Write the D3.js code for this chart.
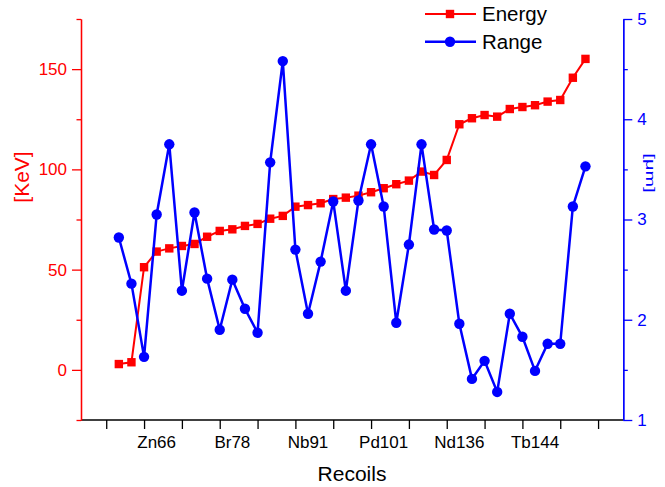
<!DOCTYPE html>
<meta charset="utf-8">
<style>
body { margin: 0; background: #fff; }
text { font-family: Arial, "Liberation Sans", sans-serif; }
</style>
<svg width="665" height="487"></svg>
<script src="https://d3js.org/d3.v7.min.js"></script>
<script>

// data: index 1..38 along the recoil axis
var energy = [2.9, 3.8, 51.2, 59.0, 60.6, 61.8, 62.8, 66.4, 69.3, 70.1, 71.8, 72.8,
  75.4, 76.8, 81.4, 82.2, 83.1, 85.2, 85.9, 86.9, 88.6, 90.6, 92.6, 94.4, 98.9,
  97.2, 104.7, 122.5, 125.5, 127.1, 126.3, 130.1, 131.1, 132.0, 133.8, 134.6, 145.7, 155.1];
var rangeUm = [2.82, 2.36, 1.63, 3.05, 3.75, 2.29, 3.07, 2.41, 1.90, 2.40, 2.11, 1.87,
  3.57, 4.58, 2.70, 2.06, 2.58, 3.18, 2.29, 3.19, 3.75, 3.13, 1.97, 2.75, 3.75,
  2.90, 2.89, 1.96, 1.41, 1.59, 1.28, 2.06, 1.83, 1.49, 1.76, 1.76, 3.13, 3.53];
var recoilLabels = ["Zn66", "Br78", "Nb91", "Pd101", "Nd136", "Tb144"];
var recoilLabelPos = [4, 10, 16, 22, 28, 34];

var svg = d3.select("svg");
var plotLeft = 81, plotRight = 623.3, plotTop = 19, plotBottom = 420;

var x = d3.scaleLinear().domain([-2, 41]).range([plotLeft, plotRight]);
var yE = d3.scaleLinear().domain([-25, 175]).range([plotBottom, plotTop]);
var yR = d3.scaleLinear().domain([1, 5]).range([plotBottom, plotTop]);

// bottom axis
var xAxis = svg.append("g")
  .attr("transform", "translate(0," + plotBottom + ")")
  .call(d3.axisBottom(x).tickValues(d3.range(0, 40, 3)).tickSize(9).tickFormat(""));
xAxis.select(".domain").attr("d", "M" + plotLeft + ",0H" + plotRight).attr("stroke", "#000").attr("stroke-width", 1.3);
xAxis.selectAll(".tick line").attr("stroke", "#000").attr("stroke-width", 1.3);

svg.append("g").selectAll("text")
  .data(recoilLabels)
  .enter().append("text")
  .attr("x", function(d, i) { return x(recoilLabelPos[i]); })
  .attr("y", 448)
  .attr("text-anchor", "middle")
  .attr("font-size", 17)
  .attr("fill", "#000")
  .text(function(d) { return d; });

svg.append("text")
  .attr("x", 352).attr("y", 481)
  .attr("text-anchor", "middle")
  .attr("font-size", 21)
  .text("Recoils");

function styleAxis(g, color) {
  g.select(".domain").attr("stroke", color).attr("stroke-width", 1.3);
  g.selectAll(".tick line").attr("stroke", color).attr("stroke-width", 1.3);
  g.selectAll(".tick text").attr("fill", color).attr("font-size", 17)
    .attr("font-family", "Arial, 'Liberation Sans', sans-serif");
}

// left axis (energy)
var minorE = svg.append("g")
  .attr("transform", "translate(" + plotLeft + ",0)")
  .call(d3.axisLeft(yE).tickValues([-25, 25, 75, 125, 175]).tickSize(4.5).tickFormat("").tickSizeOuter(0));
styleAxis(minorE, "#ff0000");
var leftAxis = svg.append("g")
  .attr("transform", "translate(" + plotLeft + ",0)")
  .call(d3.axisLeft(yE).tickValues([0, 50, 100, 150]).tickSize(9).tickPadding(5).tickSizeOuter(0));
styleAxis(leftAxis, "#ff0000");

svg.append("text")
  .attr("transform", "translate(29,177) rotate(-90)")
  .attr("text-anchor", "middle")
  .attr("font-size", 21)
  .attr("fill", "#ff0000")
  .text("[KeV]");

// right axis (range)
var minorR = svg.append("g")
  .attr("transform", "translate(" + plotRight + ",0)")
  .call(d3.axisRight(yR).tickValues([1.5, 2.5, 3.5, 4.5]).tickSize(4.5).tickFormat("").tickSizeOuter(0));
styleAxis(minorR, "#0000ff");
var rightAxis = svg.append("g")
  .attr("transform", "translate(" + plotRight + ",0)")
  .call(d3.axisRight(yR).tickValues([1, 2, 3, 4, 5]).tickFormat(d3.format("d"))
    .tickSize(9).tickPadding(5).tickSizeOuter(0));
styleAxis(rightAxis, "#0000ff");

// the unit label is squat in the original, so squash it a bit
svg.append("text")
  .attr("transform", "translate(645.5,173) rotate(90) scale(1,0.65)")
  .attr("text-anchor", "middle")
  .attr("font-size", 20)
  .attr("fill", "#0000ff")
  .text("[μm]");

// series
var lineE = d3.line().x(function(d, i) { return x(i + 1); }).y(function(d) { return yE(d); });
var lineR = d3.line().x(function(d, i) { return x(i + 1); }).y(function(d) { return yR(d); });

svg.append("path").datum(energy)
  .attr("d", lineE).attr("fill", "none").attr("stroke", "#ff0000").attr("stroke-width", 2);
svg.append("g").selectAll("rect")
  .data(energy).enter().append("rect")
  .attr("x", function(d, i) { return x(i + 1) - 4.2; })
  .attr("y", function(d) { return yE(d) - 4.2; })
  .attr("width", 8.4).attr("height", 8.4)
  .attr("fill", "#ff0000");

svg.append("path").datum(rangeUm)
  .attr("d", lineR).attr("fill", "none").attr("stroke", "#0000ff").attr("stroke-width", 2.5);
svg.append("g").selectAll("circle")
  .data(rangeUm).enter().append("circle")
  .attr("cx", function(d, i) { return x(i + 1); })
  .attr("cy", function(d) { return yR(d); })
  .attr("r", 5.2)
  .attr("fill", "#0000ff");

// legend
var legend = svg.append("g");
legend.append("line").attr("x1", 425).attr("x2", 476).attr("y1", 14).attr("y2", 14)
  .attr("stroke", "#ff0000").attr("stroke-width", 2);
legend.append("rect").attr("x", 445.8).attr("y", 9.8).attr("width", 8.4).attr("height", 8.4).attr("fill", "#ff0000");
legend.append("text").attr("x", 482).attr("y", 21).attr("font-size", 20.5).text("Energy");

legend.append("line").attr("x1", 425).attr("x2", 476).attr("y1", 41.7).attr("y2", 41.7)
  .attr("stroke", "#0000ff").attr("stroke-width", 2.5);
legend.append("circle").attr("cx", 450).attr("cy", 41.7).attr("r", 5.2).attr("fill", "#0000ff");
legend.append("text").attr("x", 482).attr("y", 49).attr("font-size", 20.5).text("Range");

</script>
